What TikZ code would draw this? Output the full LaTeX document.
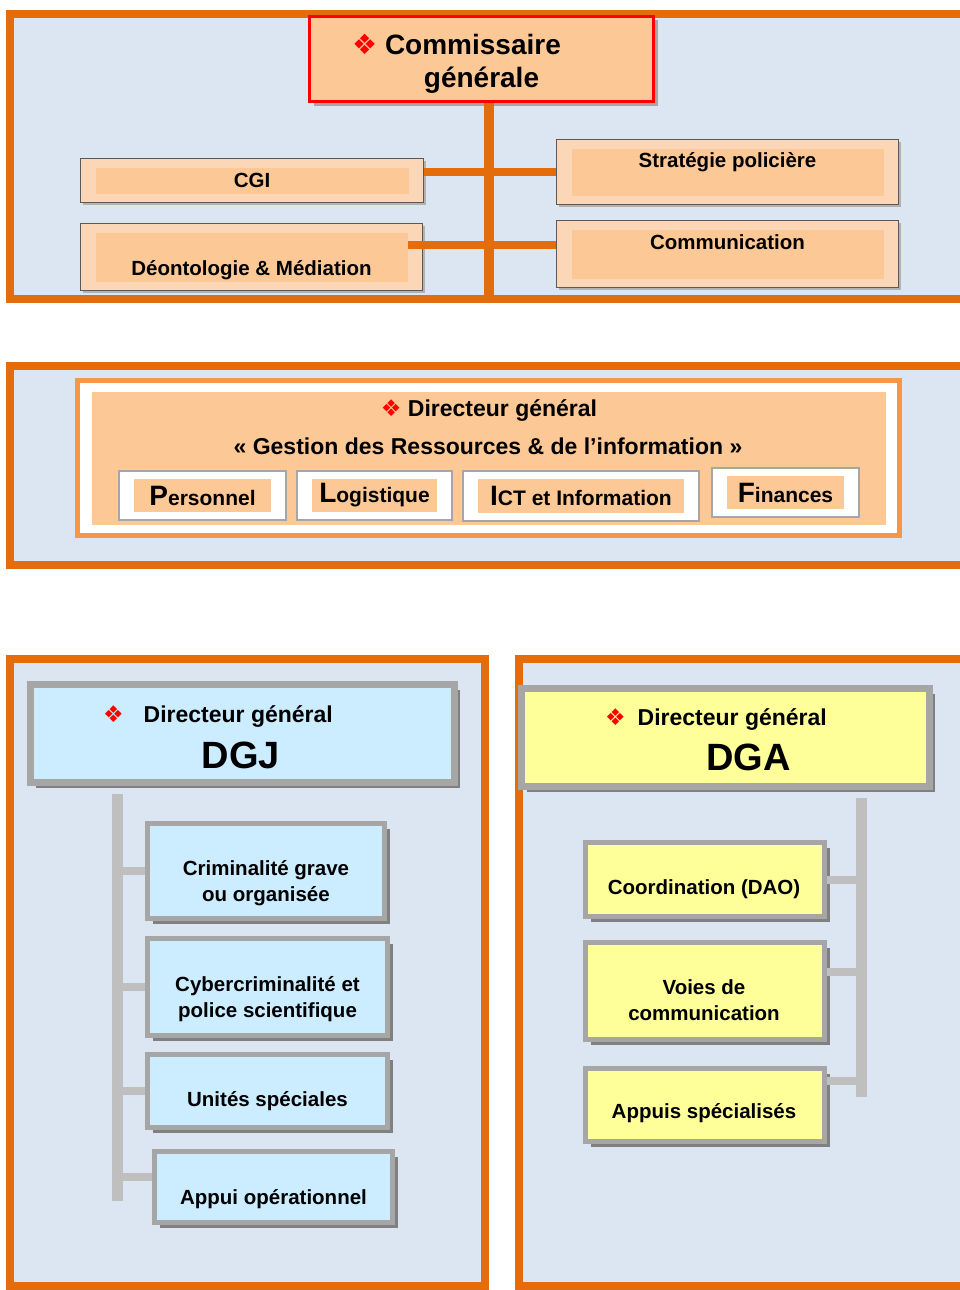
\documentclass[tikz,border=0pt]{standalone}
\usepackage{fontspec}
\setmainfont{Liberation Sans}
\newfontfamily\symfont{DejaVu Sans}
\usepackage{tikz}
\usetikzlibrary{positioning,calc,shadows}

\definecolor{orangeline}{HTML}{E46C0A}
\definecolor{panelbg}{HTML}{DCE6F2}
\definecolor{peachlight}{HTML}{FBD7B8}
\definecolor{peach}{HTML}{FCC896}
\definecolor{drgline}{HTML}{F79646}
\definecolor{skyfill}{HTML}{CCECFF}
\definecolor{lemonfill}{HTML}{FFFF99}
\definecolor{greyline}{HTML}{A6A6A6}
\definecolor{greyshadow}{HTML}{808080}
\definecolor{twiggrey}{HTML}{BFBFBF}

\newcommand{\redmark}{{\symfont\color{red}❖}}
\newcommand{\fsz}[2]{\fontsize{#1}{#2}\selectfont}

\begin{document}
\begin{tikzpicture}[x=1pt, y=-1pt,
	panel/.style={draw=orangeline, line width=8pt, fill=panelbg},
	peachinset/.style 2 args={path picture={\fill[peach] ([xshift=#1,yshift=-#2]path picture bounding box.north west) rectangle ([xshift=-#1,yshift=#2]path picture bounding box.south east);}},
	cgbox/.style={draw=red, line width=3pt, fill=peach, general shadow={fill=black!35, shadow xshift=4pt, shadow yshift=-4pt}},
	cgtext/.style={font=\bfseries\fsz{28}{33}, align=center},
	svcbox/.style={draw=black!65, line width=1.5pt, fill=peachlight, peachinset={15pt}{9pt}, general shadow={fill=black!30, shadow xshift=2pt, shadow yshift=-2pt}},
	svctext/.style={font=\bfseries\fsz{20.5}{24}, inner sep=0pt},
	trunk/.style={draw=orangeline, line width=10pt},
	limb/.style={draw=orangeline, line width=8pt},
	drgbox/.style={draw=drgline, line width=5pt, fill=white, peachinset={14pt}{11pt}},
	drgtext/.style={font=\bfseries\fsz{23}{27}},
	unitbox/.style={draw=greyline, line width=2pt, fill=white, peachinset={15pt}{8pt}, font=\bfseries\fsz{21}{25}},
	headbox/.style={draw=greyline, line width=7pt, general shadow={fill=greyshadow, shadow xshift=6pt, shadow yshift=-6pt}},
	subbox/.style={draw=greyline, line width=5pt, general shadow={fill=greyshadow, shadow xshift=5pt, shadow yshift=-5pt}},
	headtext/.style={font=\bfseries\fsz{23}{27}},
	bigtext/.style={font=\bfseries\fsz{38}{40}},
	boxtext/.style={font=\bfseries\fsz{20.5}{26}, align=center},
	bar/.style={draw=twiggrey, line width=11pt},
	twig/.style={draw=twiggrey, line width=8pt}]

	\fill[white] (0,0) rectangle (959,1290);
	\useasboundingbox (0,0) rectangle (959,1290);

	\draw[panel] (10,14) rectangle (975,299);
	\draw[panel] (10,366) rectangle (975,565);
	\draw[panel] (10,659) rectangle (485,1286);
	\draw[panel] (519,659) rectangle (975,1286);

	\node[cgbox, minimum width=344pt, minimum height=85pt] (cg) at (481.5,59) {};
	\node[cgtext] (cg-t) at (481.5,64) {\redmark\ Commissaire\hspace*{50pt}\\générale};

	\node[svcbox, minimum width=343pt, minimum height=44pt, svctext] (cgi) at (252,180.5) {CGI};
	\node[svcbox, minimum width=342pt, minimum height=65pt] (strat) at (727.5,172) {};
	\node[svctext, below=14pt of strat.north] (strat-t) {Stratégie policière};
	\node[svcbox, minimum width=342pt, minimum height=67pt] (comm) at (727.5,254) {};
	\node[svctext, below=15pt of comm.north] (comm-t) {Communication};
	\node[svcbox, minimum width=342pt, minimum height=67pt] (deon) at (251.5,257) {};
	\node[svctext, above=11pt of deon.south] (deon-t) {Déontologie \& Médiation};

	\coordinate (cgfoot) at (489,299);
	\draw[trunk] (cgfoot |- cg.south) -- (cgfoot);
	\draw[limb] (strat.west -| cgi.east) -- (strat.west);
	\draw[limb] ($(comm.west)+(0,-9)$) -- ($(comm.west -| deon.east)+(-15,-9)$);

	\node[drgbox, minimum width=822pt, minimum height=155pt] (drg) at (488.5,458) {};
	\node[drgtext] (drg-t) at (489,410) {\redmark\ Directeur général};
	\node[drgtext] (drg-s) at (488,446) {« Gestion des Ressources \& de l’information »};
	\node[unitbox, minimum width=167pt, minimum height=49pt] (pers) at (202.5,495.5) {{\fsz{28}{28}P}ersonnel};
	\node[unitbox, minimum width=155pt, minimum height=49pt] (logi) at (374.5,495.5) {{\fsz{28}{28}L}ogistique};
	\node[unitbox, minimum width=236pt, minimum height=50pt] (ict) at (581,496) {{\fsz{28}{28}I}CT et Information};
	\node[unitbox, minimum width=147pt, minimum height=49pt] (fin) at (785.5,492.5) {{\fsz{28}{28}F}inances};

	\node[headbox, fill=skyfill, minimum width=424pt, minimum height=98pt] (dgj) at (242,733) {};
	\node[headtext] (dgj-t) at (218,716) {\redmark\hspace{20pt}Directeur général};
	\node[bigtext] (dgj-n) at (241,755) {DGJ};

	\node[subbox, fill=skyfill, minimum width=237pt, minimum height=95pt] (crim) at (266,871) {};
	\node[boxtext] (crim-t) at (266,883) {Criminalité grave\\ou organisée};
	\node[subbox, fill=skyfill, minimum width=240pt, minimum height=97pt] (cyber) at (267.5,987) {};
	\node[boxtext] (cyber-t) at (267.5,999) {Cybercriminalité et\\police scientifique};
	\node[subbox, fill=skyfill, minimum width=240pt, minimum height=73pt] (unit) at (267.5,1091) {};
	\node[boxtext] (unit-t) at (267.5,1101) {Unités spéciales};
	\node[subbox, fill=skyfill, minimum width=238pt, minimum height=71pt] (appui) at (273.5,1187) {};
	\node[boxtext] (appui-t) at (273.5,1199) {Appui opérationnel};

	\coordinate (jfoot) at (117,1201);
	\draw[bar] ($(jfoot |- dgj.south)+(0,8)$) -- (jfoot);
	\draw[twig] (crim.west -| jfoot) -- (crim.west);
	\draw[twig] (cyber.west -| jfoot) -- (cyber.west);
	\draw[twig] (unit.west -| jfoot) -- (unit.west);
	\draw[twig] ($(appui.west -| jfoot)+(0,-10)$) -- ($(appui.west)+(0,-10)$);

	\node[headbox, fill=lemonfill, minimum width=408pt, minimum height=98pt] (dga) at (725,737) {};
	\node[headtext] (dga-t) at (716,719) {\redmark\hspace{12pt}Directeur général};
	\node[bigtext] (dga-n) at (748.5,757) {DGA};

	\node[subbox, fill=lemonfill, minimum width=239pt, minimum height=74pt] (coord) at (705,879.5) {};
	\node[boxtext] (coord-t) at (704,889) {Coordination (DAO)};
	\node[subbox, fill=lemonfill, minimum width=239pt, minimum height=97pt] (voies) at (705,991) {};
	\node[boxtext] (voies-t) at (704,1000) {Voies de\\communication};
	\node[subbox, fill=lemonfill, minimum width=239pt, minimum height=73pt] (appuis) at (705,1105) {};
	\node[boxtext] (appuis-t) at (704,1113) {Appuis spécialisés};

	\coordinate (afoot) at (861,1097);
	\draw[bar] ($(afoot |- dga.south)+(0,8)$) -- (afoot);
	\draw[twig] (coord.east) -- (coord.east -| afoot);
	\draw[twig] ($(voies.east)+(0,-19)$) -- ($(voies.east -| afoot)+(0,-19)$);
	\draw[twig] ($(appuis.east)+(0,-24)$) -- ($(appuis.east -| afoot)+(0,-24)$);

\end{tikzpicture}
\end{document}
